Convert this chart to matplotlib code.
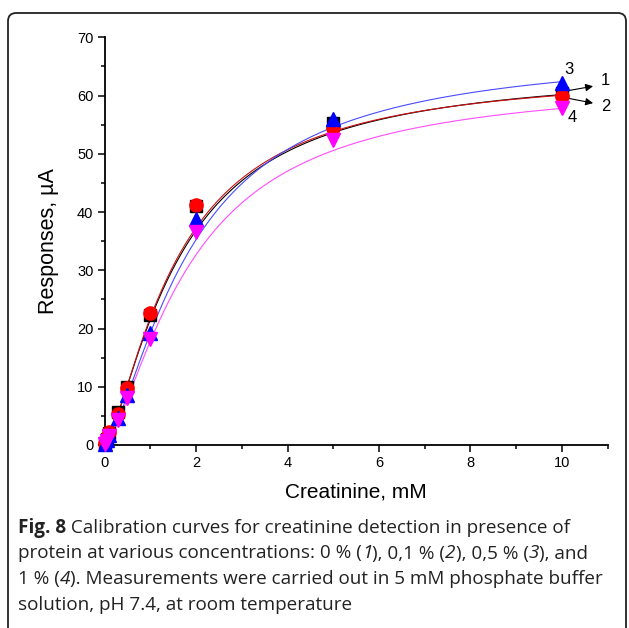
import numpy as np
import matplotlib
matplotlib.use("Agg")
import matplotlib.pyplot as plt
from matplotlib import font_manager
from matplotlib.patches import FancyBboxPatch
from matplotlib.ticker import MultipleLocator

plt.rcParams['font.family'] = ['Liberation Sans', 'DejaVu Sans']

# ---- data ----
conc = [0.01, 0.05, 0.1, 0.3, 0.5, 1, 2, 5, 10]
resp_1 = [0.3, 1.0, 2.0, 5.7, 10.0, 22.3, 41.0, 55.3, 60.5]   # 0 % protein
resp_2 = [0.4, 1.2, 2.3, 5.3, 9.8, 22.6, 41.2, 54.5, 60.0]    # 0.1 %
resp_3 = [0.2, 0.8, 1.8, 4.7, 8.5, 19.2, 38.8, 55.9, 62.2]    # 0.5 %
resp_4 = [0.2, 0.7, 1.5, 4.3, 8.0, 18.2, 36.6, 52.3, 57.8]    # 1 %

# Hill fit parameters (Vmax, K, n)
fit_1 = (65.0, 1.65, 1.40)
fit_2 = (64.5, 1.60, 1.42)
fit_3 = (68.0, 1.90, 1.45)
fit_4 = (63.0, 1.90, 1.45)

labels = ["1", "2", "3", "4"]
x_ticks = [0, 2, 4, 6, 8, 10]
y_ticks = [0, 10, 20, 30, 40, 50, 60, 70]

caption_lines = [
    [("Fig. 8", "b"), (" Calibration curves for creatinine detection in presence of", "r")],
    [("protein at various concentrations: 0 % (", "r"), ("1", "i"), ("), 0,1 % (", "r"),
     ("2", "i"), ("), 0,5 % (", "r"), ("3", "i"), ("), and", "r")],
    [("1 % (", "r"), ("4", "i"), ("). Measurements were carried out in 5 mM phosphate buffer", "r")],
    [("solution, pH 7.4, at room temperature", "r")],
]


def hill(x, p):
    vmax, k, n = p
    return vmax * x ** n / (k ** n + x ** n)


def italic_family():
    avail = {}
    for f in font_manager.fontManager.ttflist:
        if f.style in ('italic', 'oblique') and f.weight in (400, 'normal', 'regular'):
            avail.setdefault(f.name, f.fname)
    for name in ['Open Sans', 'Noto Sans', 'Lato', 'Roboto', 'Liberation Sans', 'DejaVu Sans']:
        if name in avail:
            return name
    return 'DejaVu Sans'


W, H = 629, 628
fig = plt.figure(figsize=(W / 100, H / 100), dpi=100)
ax = fig.add_axes([104.6 / W, 1 - 445 / H, (607.7 - 104.6) / W, (445 - 37.3) / H])

xs = np.linspace(0, 10, 400)
ax.plot(xs, hill(xs, fit_1), color='black', lw=0.8, zorder=2)
ax.plot(xs, hill(xs, fit_2), color='#cc1111', lw=0.8, zorder=2)
ax.plot(xs, hill(xs, fit_3), color='#4a4aff', lw=0.8, zorder=2)
ax.plot(xs, hill(xs, fit_4), color='#ff4cff', lw=0.8, zorder=2)

ax.plot(conc, resp_1, 's', color='black', ms=8.5, mec='black', zorder=3, clip_on=False)
ax.plot(conc, resp_2, 'o', color='#ff0000', ms=9.5, mec='#ff0000', zorder=4, clip_on=False)
ax.plot(conc, resp_3, '^', color='#0000ff', ms=9.5, mec='#0000ff', zorder=5, clip_on=False)
ax.plot(conc, resp_4, 'v', color='#ff00ff', ms=9.5, mec='#ff00ff', zorder=6, clip_on=False)

ax.set_xlim(0, 11)
ax.set_ylim(0, 70)
ax.set_xticks(x_ticks)
ax.set_yticks(y_ticks)
ax.xaxis.set_minor_locator(MultipleLocator(1))
ax.yaxis.set_minor_locator(MultipleLocator(5))
ax.spines['top'].set_visible(False)
ax.spines['right'].set_visible(False)
for s in ('left', 'bottom'):
    ax.spines[s].set_linewidth(1.3)
ax.tick_params(which='major', direction='out', length=5, width=1.1, labelsize=10.5, pad=3)
ax.tick_params(which='minor', direction='out', length=3, width=1.1)
ax.set_xlabel("Creatinine, mM", fontsize=15, labelpad=9)
ax.set_ylabel("Responses, \u00b5A", fontsize=15.5, labelpad=13)

# curve labels with arrows
ax.text(10.16, 64.4, labels[2], fontsize=12, ha='center', va='center', clip_on=False)
ax.text(10.22, 56.3, labels[3], fontsize=12, ha='center', va='center', clip_on=False)
ax.annotate(labels[0], xy=(10.68, 61.6), xytext=(10.96, 62.6), fontsize=12,
            ha='center', va='center', annotation_clip=False)
ax.annotate("", xy=(10.68, 61.6), xytext=(9.96, 60.6), annotation_clip=False,
            arrowprops=dict(arrowstyle='-|>', color='black', lw=0.8, mutation_scale=11,
                            shrinkA=0, shrinkB=0))
ax.annotate(labels[1], xy=(10.68, 58.7), xytext=(10.96, 58.2), fontsize=12,
            ha='center', va='center', annotation_clip=False)
ax.annotate("", xy=(10.68, 58.7), xytext=(9.96, 59.8), annotation_clip=False,
            arrowprops=dict(arrowstyle='-|>', color='black', lw=0.8, mutation_scale=11,
                            shrinkA=0, shrinkB=0))

# rounded frame
frame = FancyBboxPatch((8 / W, -0.1), (626 - 8) / W, 1 - 13 / H + 0.1,
                       boxstyle="round,pad=0,rounding_size=0.013",
                       transform=fig.transFigure, fill=False, ec='#222222', lw=1.3,
                       clip_on=False)
fig.patches.append(frame)

# caption (segments placed one after another on a common baseline)
cap_fs = 13.6
ital = italic_family()
renderer = fig.canvas.get_renderer()
baselines = [533, 558.5, 584, 609.5]
for segs, yb in zip(caption_lines, baselines):
    xpix = 18.0
    for txt, st in segs:
        kw = dict(fontsize=cap_fs, color='#222222', va='baseline', ha='left')
        if st == 'b':
            kw.update(family='Open Sans', fontweight='bold')
        elif st == 'i':
            kw.update(family=ital, style='italic')
        else:
            kw.update(family='Open Sans')
        t = fig.text(xpix / W, 1 - yb / H, txt, **kw)
        bb = t.get_window_extent(renderer)
        xpix = bb.x1

fig.savefig("out.png", dpi=100)
